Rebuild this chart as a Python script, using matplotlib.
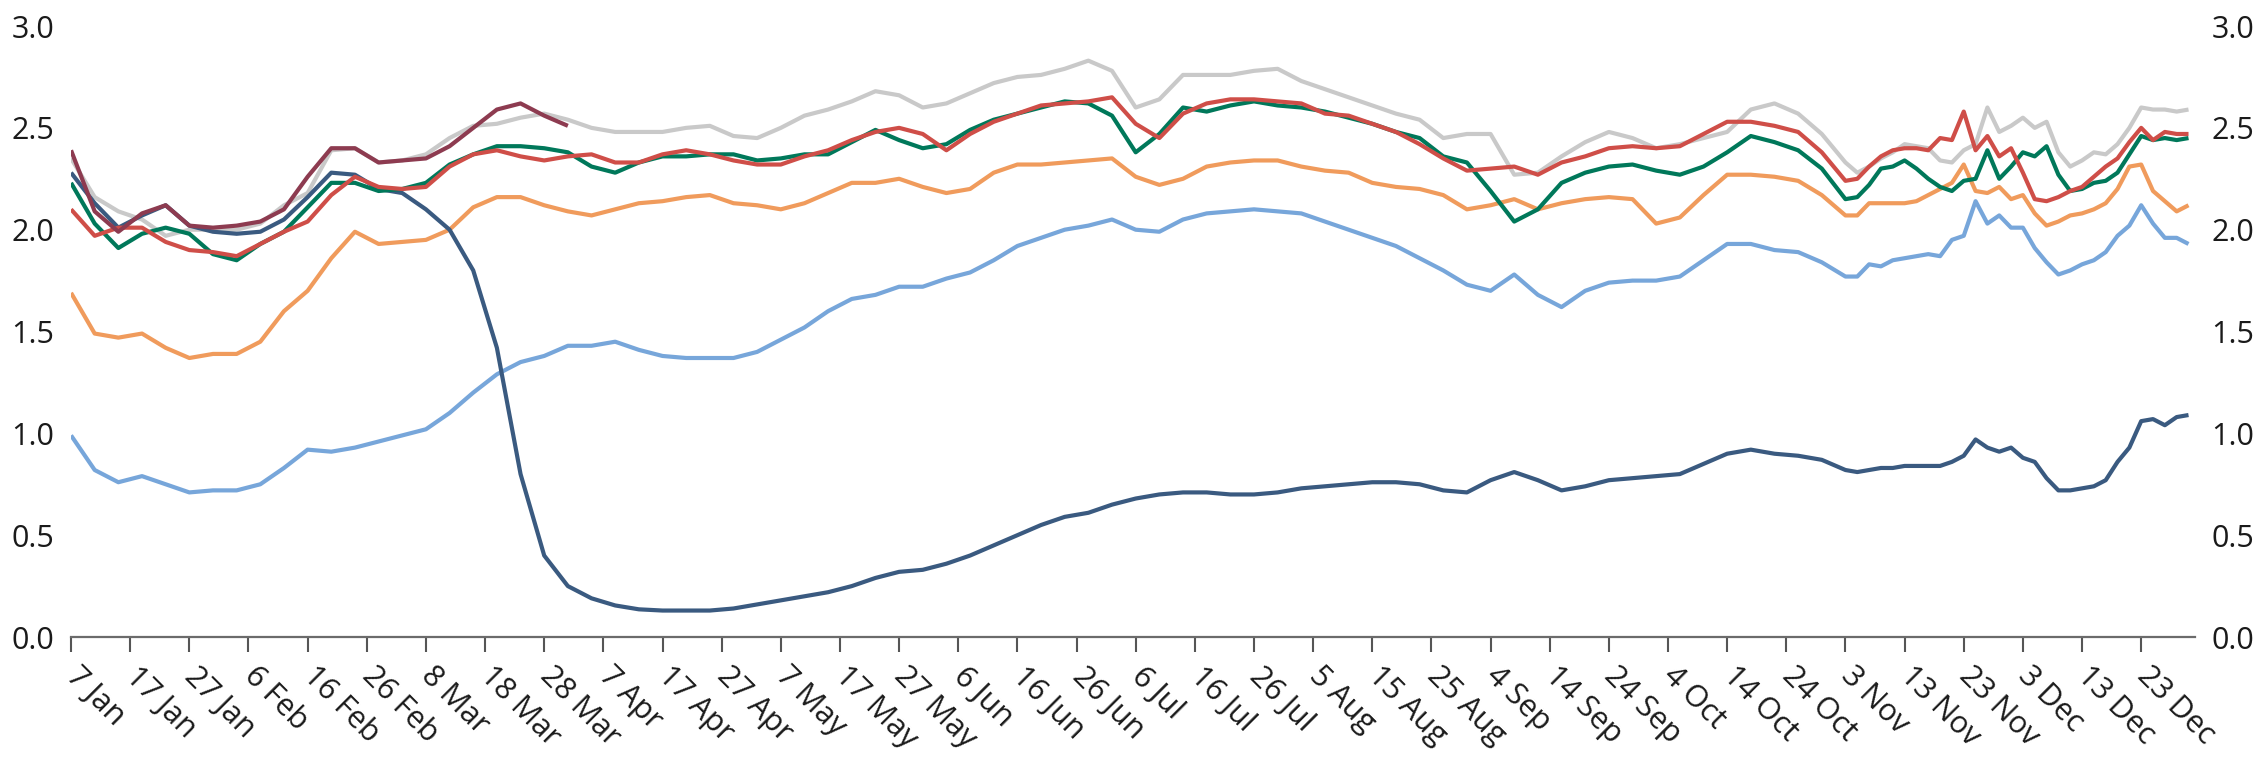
import numpy as np
import matplotlib
matplotlib.use("Agg")
import matplotlib.pyplot as plt

plt.rcParams['font.family'] = ['Open Sans', 'DejaVu Sans']

# days since 7 Jan: every 4 days to early Nov, then every 2 days
DAYS = list(range(0, 300, 4)) + list(range(300, 359, 2))

TICK_DAYS = list(range(0, 351, 10))
TICK_LABELS = ["7 Jan", "17 Jan", "27 Jan", "6 Feb", "16 Feb", "26 Feb", "8 Mar", "18 Mar",
               "28 Mar", "7 Apr", "17 Apr", "27 Apr", "7 May", "17 May", "27 May", "6 Jun",
               "16 Jun", "26 Jun", "6 Jul", "16 Jul", "26 Jul", "5 Aug", "15 Aug", "25 Aug",
               "4 Sep", "14 Sep", "24 Sep", "4 Oct", "14 Oct", "24 Oct", "3 Nov", "13 Nov",
               "23 Nov", "3 Dec", "13 Dec", "23 Dec"]

navy = [2.28, 2.13, 2.01, 2.07, 2.12, 2.02, 1.99, 1.98, 1.99, 2.05, 2.16, 2.28, 2.27, 2.20, 2.18,
        2.10, 2.00, 1.80, 1.42, 0.80, 0.40, 0.25, 0.19,
        0.155, 0.136, 0.13, 0.13, 0.13, 0.14, 0.16, 0.18, 0.20, 0.22, 0.25, 0.29, 0.32, 0.33,
        0.36, 0.40, 0.45, 0.50, 0.55, 0.59, 0.61, 0.65, 0.68, 0.70,
        0.71, 0.71, 0.70, 0.70, 0.71, 0.73, 0.74, 0.75, 0.76, 0.76, 0.75, 0.72, 0.71, 0.77,
        0.81, 0.77, 0.72, 0.74, 0.77, 0.78, 0.79, 0.80, 0.85, 0.90, 0.92, 0.90, 0.89, 0.87,
        0.82, 0.81, 0.82, 0.83, 0.83, 0.84, 0.84, 0.84, 0.84, 0.86, 0.89, 0.97, 0.93, 0.91,
        0.93, 0.88, 0.86, 0.78, 0.72, 0.72, 0.73, 0.74, 0.77, 0.86, 0.93, 1.06, 1.07, 1.04,
        1.08, 1.09]

light_blue = [0.99, 0.82, 0.76, 0.79, 0.75, 0.71, 0.72, 0.72, 0.75, 0.83, 0.92, 0.91, 0.93, 0.96,
              0.99, 1.02, 1.10, 1.20, 1.29, 1.35, 1.38, 1.43, 1.43,
              1.45, 1.41, 1.38, 1.37, 1.37, 1.37, 1.40, 1.46, 1.52, 1.60, 1.66, 1.68, 1.72, 1.72,
              1.76, 1.79, 1.85, 1.92, 1.96, 2.00, 2.02, 2.05, 2.00, 1.99,
              2.05, 2.08, 2.09, 2.10, 2.09, 2.08, 2.04, 2.00, 1.96, 1.92, 1.86, 1.80, 1.73, 1.70,
              1.78, 1.68, 1.62, 1.70, 1.74, 1.75, 1.75, 1.77, 1.85, 1.93, 1.93, 1.90, 1.89, 1.84,
              1.77, 1.77, 1.83, 1.82, 1.85, 1.86, 1.87, 1.88, 1.87, 1.95, 1.97, 2.14, 2.03, 2.07,
              2.01, 2.01, 1.91, 1.84, 1.78, 1.80, 1.83, 1.85, 1.89, 1.97, 2.02, 2.12, 2.03, 1.96,
              1.96, 1.93]

orange = [1.69, 1.49, 1.47, 1.49, 1.42, 1.37, 1.39, 1.39, 1.45, 1.60, 1.70, 1.86, 1.99, 1.93, 1.94,
          1.95, 2.00, 2.11, 2.16, 2.16, 2.12, 2.09, 2.07,
          2.10, 2.13, 2.14, 2.16, 2.17, 2.13, 2.12, 2.10, 2.13, 2.18, 2.23, 2.23, 2.25, 2.21,
          2.18, 2.20, 2.28, 2.32, 2.32, 2.33, 2.34, 2.35, 2.26, 2.22,
          2.25, 2.31, 2.33, 2.34, 2.34, 2.31, 2.29, 2.28, 2.23, 2.21, 2.20, 2.17, 2.10, 2.12,
          2.15, 2.10, 2.13, 2.15, 2.16, 2.15, 2.03, 2.06, 2.17, 2.27, 2.27, 2.26, 2.24, 2.17,
          2.07, 2.07, 2.13, 2.13, 2.13, 2.13, 2.14, 2.17, 2.20, 2.23, 2.32, 2.19, 2.18, 2.21,
          2.15, 2.17, 2.08, 2.02, 2.04, 2.07, 2.08, 2.10, 2.13, 2.20, 2.31, 2.32, 2.19, 2.14,
          2.09, 2.12]

green = [2.23, 2.03, 1.91, 1.98, 2.01, 1.98, 1.88, 1.85, 1.93, 1.99, 2.11, 2.23, 2.23, 2.19, 2.20,
         2.23, 2.32, 2.37, 2.41, 2.41, 2.40, 2.38, 2.31,
         2.28, 2.33, 2.36, 2.36, 2.37, 2.37, 2.34, 2.35, 2.37, 2.37, 2.43, 2.49, 2.44, 2.40,
         2.42, 2.49, 2.54, 2.57, 2.60, 2.63, 2.62, 2.56, 2.38, 2.47,
         2.60, 2.58, 2.61, 2.63, 2.61, 2.60, 2.58, 2.55, 2.52, 2.48, 2.45, 2.36, 2.33, 2.19,
         2.04, 2.10, 2.23, 2.28, 2.31, 2.32, 2.29, 2.27, 2.31, 2.38, 2.46, 2.43, 2.39, 2.30,
         2.15, 2.16, 2.22, 2.30, 2.31, 2.34, 2.30, 2.25, 2.21, 2.19, 2.24, 2.25, 2.39, 2.25,
         2.31, 2.38, 2.36, 2.41, 2.27, 2.19, 2.20, 2.23, 2.24, 2.28, 2.37, 2.46, 2.44, 2.45,
         2.44, 2.45]

red = [2.10, 1.97, 2.01, 2.01, 1.94, 1.90, 1.89, 1.87, 1.93, 1.99, 2.04, 2.17, 2.26, 2.21, 2.20,
       2.21, 2.31, 2.37, 2.39, 2.36, 2.34, 2.36, 2.37,
       2.33, 2.33, 2.37, 2.39, 2.37, 2.34, 2.32, 2.32, 2.36, 2.39, 2.44, 2.48, 2.50, 2.47,
       2.39, 2.47, 2.53, 2.57, 2.61, 2.62, 2.63, 2.65, 2.52, 2.45,
       2.57, 2.62, 2.64, 2.64, 2.63, 2.62, 2.57, 2.56, 2.52, 2.48, 2.42, 2.35, 2.29, 2.30,
       2.31, 2.27, 2.33, 2.36, 2.40, 2.41, 2.40, 2.41, 2.47, 2.53, 2.53, 2.51, 2.48, 2.38,
       2.24, 2.25, 2.31, 2.36, 2.39, 2.40, 2.40, 2.39, 2.45, 2.44, 2.58, 2.39, 2.46, 2.36,
       2.40, 2.28, 2.15, 2.14, 2.16, 2.19, 2.21, 2.26, 2.31, 2.35, 2.43, 2.50, 2.44, 2.48,
       2.47, 2.47]

grey = [2.35, 2.16, 2.09, 2.05, 1.97, 2.00, 2.00, 2.00, 2.03, 2.12, 2.18, 2.39, 2.40, 2.33, 2.34,
        2.37, 2.45, 2.51, 2.52, 2.55, 2.57, 2.54, 2.50,
        2.48, 2.48, 2.48, 2.50, 2.51, 2.46, 2.45, 2.50, 2.56, 2.59, 2.63, 2.68, 2.66, 2.60,
        2.62, 2.67, 2.72, 2.75, 2.76, 2.79, 2.83, 2.78, 2.60, 2.64,
        2.76, 2.76, 2.76, 2.78, 2.79, 2.73, 2.69, 2.65, 2.61, 2.57, 2.54, 2.45, 2.47, 2.47,
        2.27, 2.28, 2.36, 2.43, 2.48, 2.45, 2.40, 2.42, 2.45, 2.48, 2.59, 2.62, 2.57, 2.47,
        2.33, 2.28, 2.31, 2.35, 2.38, 2.42, 2.41, 2.40, 2.34, 2.33, 2.39, 2.42, 2.60, 2.48,
        2.51, 2.55, 2.50, 2.53, 2.38, 2.31, 2.34, 2.38, 2.37, 2.42, 2.50, 2.60, 2.59, 2.59,
        2.58, 2.59]

# this series stops at the end of March
maroon = [2.39, 2.09, 1.99, 2.08, 2.12, 2.02, 2.01, 2.02, 2.04, 2.10, 2.26, 2.40, 2.40, 2.33,
          2.34, 2.35, 2.41, 2.50, 2.59, 2.62, 2.56, 2.51]

fig = plt.figure(figsize=(22.55, 7.57), dpi=100)
ax = fig.add_axes([0.0315, 0.1585, 0.9419, 0.8071])

series = [
    (grey, "#c9c9c9"),
    (light_blue, "#77a6da"),
    (orange, "#f09b5c"),
    (navy, "#3a5a80"),
    (green, "#00785a"),
    (red, "#cf4e48"),
    (maroon, "#8d3b50"),
]
for vals, col in series:
    ax.plot(DAYS[:len(vals)], vals, color=col, lw=3.0,
            solid_joinstyle="round", solid_capstyle="butt")

ax.set_xlim(0, 359.1)
ax.set_ylim(0, 3.0)

for s in ["top", "left", "right"]:
    ax.spines[s].set_visible(False)
ax.spines["bottom"].set_color("#6b6b6b")
ax.spines["bottom"].set_linewidth(1.6)

ax.set_xticks(TICK_DAYS)
ax.set_xticklabels(TICK_LABELS, rotation=-45, ha="left", va="center",
                   rotation_mode="anchor", fontsize=22, color="#1a1a1a")
ax.tick_params(axis="x", direction="out", length=11, width=1.5, color="#555555", pad=14)

ax.set_yticks(np.arange(0, 3.01, 0.5))
ax.yaxis.set_major_formatter(matplotlib.ticker.FormatStrFormatter("%.1f"))
ax.tick_params(axis="y", length=0, labelsize=22, labelcolor="#1a1a1a", pad=12,
               left=True, right=True, labelleft=True, labelright=True)

fig.savefig("out.png", dpi=100)
